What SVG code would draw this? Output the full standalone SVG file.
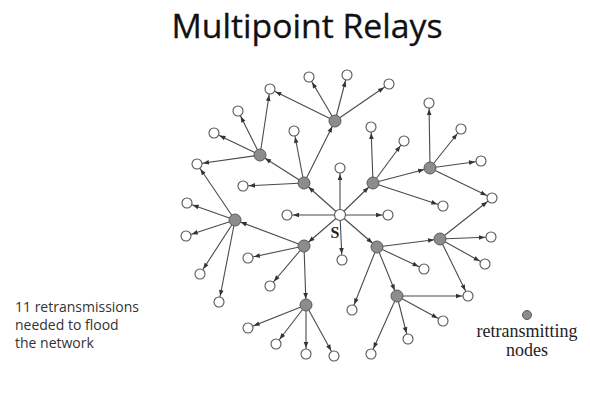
<svg xmlns="http://www.w3.org/2000/svg" width="590" height="400" viewBox="0 0 590 400">
  <style>
    .title { font-family: "Open Sans", "Noto Sans", sans-serif; font-size: 32px; fill: #111; stroke: #111; stroke-width: 0.3; }
    .note { font-family: "Open Sans", "Noto Sans", sans-serif; font-size: 14px; fill: #333; }
    .serif { font-family: "Liberation Serif", "DejaVu Serif", serif; fill: #222; }
    .edge { stroke: #4a4a4a; stroke-width: 1.1; fill: none; marker-end: url(#arrow); }
    .plain { fill: #fff; stroke: #555; stroke-width: 1.1; }
    .relay { fill: #8c8c8c; stroke: #5a5a5a; stroke-width: 1; }
  </style>
  <defs>
    <marker id="arrow" markerUnits="userSpaceOnUse" markerWidth="12" markerHeight="8" refX="6" refY="0" orient="auto" overflow="visible">
      <path d="M-6,-2.3 L0,0 L-6,2.3 z" fill="#333"/>
    </marker>
  </defs>

  <rect width="590" height="400" fill="#fff"/>

  <text class="title" x="307" y="38" text-anchor="middle" textLength="271" lengthAdjust="spacingAndGlyphs">Multipoint Relays</text>

  <g id="connectors">
    <!-- source S -->
    <line class="edge" x1="340" y1="215" x2="340" y2="168"/>
    <line class="edge" x1="340" y1="215" x2="304" y2="183"/>
    <line class="edge" x1="340" y1="215" x2="373" y2="183"/>
    <line class="edge" x1="340" y1="215" x2="388" y2="215"/>
    <line class="edge" x1="340" y1="215" x2="287" y2="215"/>
    <line class="edge" x1="340" y1="215" x2="342" y2="260"/>
    <line class="edge" x1="340" y1="215" x2="304" y2="246"/>
    <line class="edge" x1="340" y1="215" x2="377" y2="247"/>
    <!-- relay G3 -->
    <line class="edge" x1="304" y1="183" x2="260" y2="155"/>
    <line class="edge" x1="304" y1="183" x2="243" y2="186"/>
    <line class="edge" x1="304" y1="183" x2="294" y2="131"/>
    <line class="edge" x1="304" y1="183" x2="335" y2="121"/>
    <!-- relay G2 -->
    <line class="edge" x1="260" y1="155" x2="270" y2="89"/>
    <line class="edge" x1="260" y1="155" x2="238" y2="111"/>
    <line class="edge" x1="260" y1="155" x2="214" y2="133"/>
    <line class="edge" x1="260" y1="155" x2="197" y2="164"/>
    <!-- relay G1 -->
    <line class="edge" x1="335" y1="121" x2="309" y2="77"/>
    <line class="edge" x1="335" y1="121" x2="347" y2="75"/>
    <line class="edge" x1="335" y1="121" x2="389" y2="84"/>
    <line class="edge" x1="335" y1="121" x2="270" y2="89"/>
    <!-- relay G4 -->
    <line class="edge" x1="373" y1="183" x2="371" y2="127"/>
    <line class="edge" x1="373" y1="183" x2="404" y2="141"/>
    <line class="edge" x1="373" y1="183" x2="430" y2="168"/>
    <line class="edge" x1="373" y1="183" x2="443" y2="206"/>
    <!-- relay G5 -->
    <line class="edge" x1="430" y1="168" x2="429" y2="103"/>
    <line class="edge" x1="430" y1="168" x2="461" y2="129"/>
    <line class="edge" x1="430" y1="168" x2="481" y2="161"/>
    <line class="edge" x1="430" y1="168" x2="492" y2="198"/>
    <!-- relay G7 -->
    <line class="edge" x1="304" y1="246" x2="235" y2="220"/>
    <line class="edge" x1="304" y1="246" x2="248" y2="258"/>
    <line class="edge" x1="304" y1="246" x2="270" y2="286"/>
    <line class="edge" x1="304" y1="246" x2="306" y2="305"/>
    <!-- relay G6 -->
    <line class="edge" x1="235" y1="220" x2="187" y2="203"/>
    <line class="edge" x1="235" y1="220" x2="186" y2="236"/>
    <line class="edge" x1="235" y1="220" x2="200" y2="274"/>
    <line class="edge" x1="235" y1="220" x2="219" y2="302"/>
    <line class="edge" x1="235" y1="220" x2="197" y2="164"/>
    <!-- relay G10 -->
    <line class="edge" x1="306" y1="305" x2="248" y2="328"/>
    <line class="edge" x1="306" y1="305" x2="276" y2="344"/>
    <line class="edge" x1="306" y1="305" x2="306" y2="354"/>
    <line class="edge" x1="306" y1="305" x2="334" y2="356"/>
    <!-- relay G8 -->
    <line class="edge" x1="377" y1="247" x2="440" y2="239"/>
    <line class="edge" x1="377" y1="247" x2="424" y2="269"/>
    <line class="edge" x1="377" y1="247" x2="352" y2="310"/>
    <line class="edge" x1="377" y1="247" x2="397" y2="296"/>
    <!-- relay G9 -->
    <line class="edge" x1="440" y1="239" x2="492" y2="198"/>
    <line class="edge" x1="440" y1="239" x2="491" y2="237"/>
    <line class="edge" x1="440" y1="239" x2="485" y2="264"/>
    <line class="edge" x1="440" y1="239" x2="468" y2="296"/>
    <!-- relay G11 -->
    <line class="edge" x1="397" y1="296" x2="468" y2="296"/>
    <line class="edge" x1="397" y1="296" x2="443" y2="321"/>
    <line class="edge" x1="397" y1="296" x2="408" y2="339"/>
    <line class="edge" x1="397" y1="296" x2="371" y2="354"/>
  </g>

  <g id="S"><circle class="plain" cx="340" cy="215" r="5.5"/><text class="serif" x="335" y="238" font-size="16" font-weight="bold" fill="#111" text-anchor="middle">S</text></g>

  <g id="G1"><circle class="relay" cx="335" cy="121" r="6"/></g>
  <g id="G2"><circle class="relay" cx="260" cy="155" r="6"/></g>
  <g id="G3"><circle class="relay" cx="304" cy="183" r="6"/></g>
  <g id="G4"><circle class="relay" cx="373" cy="183" r="6"/></g>
  <g id="G5"><circle class="relay" cx="430" cy="168" r="6"/></g>
  <g id="G6"><circle class="relay" cx="235" cy="220" r="6"/></g>
  <g id="G7"><circle class="relay" cx="304" cy="246" r="6"/></g>
  <g id="G8"><circle class="relay" cx="377" cy="247" r="6"/></g>
  <g id="G9"><circle class="relay" cx="440" cy="239" r="6"/></g>
  <g id="G10"><circle class="relay" cx="306" cy="305" r="6"/></g>
  <g id="G11"><circle class="relay" cx="397" cy="296" r="6"/></g>

  <g id="w1"><circle class="plain" cx="309" cy="77" r="5"/></g>
  <g id="w2"><circle class="plain" cx="347" cy="75" r="5"/></g>
  <g id="w3"><circle class="plain" cx="389" cy="84" r="5"/></g>
  <g id="w4"><circle class="plain" cx="270" cy="89" r="5"/></g>
  <g id="w5"><circle class="plain" cx="238" cy="111" r="5"/></g>
  <g id="w6"><circle class="plain" cx="214" cy="133" r="5"/></g>
  <g id="w7"><circle class="plain" cx="197" cy="164" r="5"/></g>
  <g id="w8"><circle class="plain" cx="294" cy="131" r="5"/></g>
  <g id="w9"><circle class="plain" cx="243" cy="186" r="5"/></g>
  <g id="w10"><circle class="plain" cx="340" cy="168" r="5"/></g>
  <g id="w11"><circle class="plain" cx="371" cy="127" r="5"/></g>
  <g id="w12"><circle class="plain" cx="404" cy="141" r="5"/></g>
  <g id="w13"><circle class="plain" cx="429" cy="103" r="5"/></g>
  <g id="w14"><circle class="plain" cx="461" cy="129" r="5"/></g>
  <g id="w15"><circle class="plain" cx="481" cy="161" r="5"/></g>
  <g id="w16"><circle class="plain" cx="492" cy="198" r="5"/></g>
  <g id="w17"><circle class="plain" cx="443" cy="206" r="5"/></g>
  <g id="w18"><circle class="plain" cx="187" cy="203" r="5"/></g>
  <g id="w19"><circle class="plain" cx="287" cy="215" r="5"/></g>
  <g id="w20"><circle class="plain" cx="388" cy="215" r="5"/></g>
  <g id="w21"><circle class="plain" cx="186" cy="236" r="5"/></g>
  <g id="w22"><circle class="plain" cx="200" cy="274" r="5"/></g>
  <g id="w23"><circle class="plain" cx="219" cy="302" r="5"/></g>
  <g id="w24"><circle class="plain" cx="248" cy="258" r="5"/></g>
  <g id="w25"><circle class="plain" cx="270" cy="286" r="5"/></g>
  <g id="w26"><circle class="plain" cx="342" cy="260" r="5"/></g>
  <g id="w27"><circle class="plain" cx="491" cy="237" r="5"/></g>
  <g id="w28"><circle class="plain" cx="485" cy="264" r="5"/></g>
  <g id="w29"><circle class="plain" cx="424" cy="269" r="5"/></g>
  <g id="w30"><circle class="plain" cx="468" cy="296" r="5"/></g>
  <g id="w31"><circle class="plain" cx="352" cy="310" r="5"/></g>
  <g id="w32"><circle class="plain" cx="443" cy="321" r="5"/></g>
  <g id="w33"><circle class="plain" cx="408" cy="339" r="5"/></g>
  <g id="w34"><circle class="plain" cx="371" cy="354" r="5"/></g>
  <g id="w35"><circle class="plain" cx="334" cy="356" r="5"/></g>
  <g id="w36"><circle class="plain" cx="306" cy="354" r="5"/></g>
  <g id="w37"><circle class="plain" cx="276" cy="344" r="5"/></g>
  <g id="w38"><circle class="plain" cx="248" cy="328" r="5"/></g>

  <g id="note">
    <text class="note" x="15" y="312">11 retransmissions</text>
    <text class="note" x="15" y="330">needed to flood</text>
    <text class="note" x="15" y="348">the network</text>
  </g>

  <g id="legend">
    <circle class="relay" cx="527" cy="315" r="4.5"/>
    <text class="serif" x="527" y="337" font-size="18" text-anchor="middle">retransmitting</text>
    <text class="serif" x="527" y="356" font-size="18" text-anchor="middle">nodes</text>
  </g>
</svg>
